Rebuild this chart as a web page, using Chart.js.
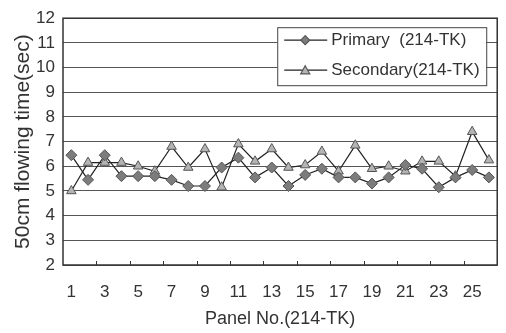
<!DOCTYPE html>
<html>
<head>
<meta charset="utf-8">
<script src="https://cdn.jsdelivr.net/npm/chart.js@4/dist/chart.umd.min.js"></script>
<style>
html,body{margin:0;padding:0;background:#fff;}
#wrap{width:506px;height:333px;}
</style>
</head>
<body>
<div id="wrap"><canvas id="c" width="506" height="333"></canvas></div>
<script>
const panels = ['1','2','3','4','5','6','7','8','9','10','11','12','13','14','15','16','17','18','19','20','21','22','23','24','25','26'];
const primary = [6.45,5.45,6.45,5.6,5.6,5.6,5.45,5.2,5.2,5.95,6.35,5.55,5.95,5.2,5.65,5.9,5.55,5.55,5.3,5.55,6.05,5.9,5.15,5.55,5.85,5.55];
const secondary = [5.0,6.15,6.15,6.15,6.0,5.8,6.8,5.95,6.7,5.15,6.9,6.2,6.7,5.95,6.05,6.6,5.8,6.85,5.9,6.0,5.8,6.2,6.2,5.6,7.4,6.25];
const seriesNames = ['Primary  (214-TK)','Secondary(214-TK)'];
const yTicks = [2,3,4,5,6,7,8,9,10,11,12];
const xTitle = 'Panel No.(214-TK)';
const yTitle = '50cm flowing time(sec)';

const FONT = '"Liberation Sans Narrow", "Liberation Sans", Arial, sans-serif';
const TXT = '#333';

const frame = {
  id:'frame',
  afterDatasetsDraw(chart){
    const {ctx, chartArea:a, scales:{x}} = chart;
    ctx.save();
    ctx.strokeStyle = '#333';
    ctx.lineWidth = 1.5;
    ctx.strokeRect(a.left, a.top, a.right-a.left, a.bottom-a.top);
    ctx.lineWidth = 1;
    for (let i = 1; i < panels.length-1; i += 2) {
      const px = Math.round((x.getPixelForTick(i) + x.getPixelForTick(i+1))/2) + 0.5;
      ctx.beginPath(); ctx.moveTo(px, a.bottom); ctx.lineTo(px, a.bottom-4); ctx.stroke();
    }
    const w = 209, h = 58;
    const lx = a.right - 11 - w, ly = a.top + 9;
    ctx.fillStyle = '#fff';
    ctx.fillRect(lx, ly, w, h);
    ctx.strokeStyle = '#444';
    ctx.lineWidth = 1;
    ctx.strokeRect(lx+0.5, ly+0.5, w, h);
    chart.data.datasets.forEach((ds, i) => {
      const cy = ly + 13 + i*30;
      ctx.strokeStyle = '#222';
      ctx.lineWidth = 1.2;
      ctx.beginPath(); ctx.moveTo(lx+7, cy); ctx.lineTo(lx+50, cy); ctx.stroke();
      ctx.fillStyle = ds.pointBackgroundColor;
      ctx.strokeStyle = ds.pointBorderColor;
      ctx.beginPath();
      const r = 4.5, cx = lx+28;
      if (ds.pointStyle === 'rectRot') {
        ctx.moveTo(cx, cy-r); ctx.lineTo(cx+r, cy); ctx.lineTo(cx, cy+r); ctx.lineTo(cx-r, cy); ctx.closePath();
      } else {
        ctx.moveTo(cx, cy-r); ctx.lineTo(cx+r, cy+r*0.8); ctx.lineTo(cx-r, cy+r*0.8); ctx.closePath();
      }
      ctx.fill(); ctx.stroke();
      ctx.fillStyle = TXT;
      ctx.font = '17px ' + FONT;
      ctx.textBaseline = 'middle';
      ctx.textAlign = 'left';
      ctx.fillText(ds.label, lx+54, cy);
    });
    ctx.restore();
  }
};

new Chart(document.getElementById('c'), {
  type: 'line',
  data: {
    labels: panels,
    datasets: [
      {label: seriesNames[0], data: primary, borderColor:'#222', borderWidth:1.2,
       pointStyle:'rectRot', pointRadius:5.5, pointBackgroundColor:'#7c7c7c', pointBorderColor:'#555', pointBorderWidth:1, tension:0},
      {label: seriesNames[1], data: secondary, borderColor:'#222', borderWidth:1.2,
       pointStyle:'triangle', pointRadius:5.5, pointBackgroundColor:'#b4b4b4', pointBorderColor:'#555', pointBorderWidth:1, tension:0}
    ]
  },
  options: {
    responsive:false,
    animation:false,
    layout:{padding:{left:0,right:3,top:11,bottom:0}},
    plugins:{legend:{display:false}, tooltip:{enabled:false}},
    scales:{
      x:{
        offset:true,
        grid:{display:false, drawTicks:false},
        border:{display:false},
        ticks:{autoSkip:false, maxRotation:0, padding:17, color:TXT, font:{family:FONT,size:17},
               callback:(v,i)=> i%2===0 ? panels[i] : ''},
        title:{display:true, text:xTitle, color:TXT, font:{family:FONT,size:18}, padding:{top:0,bottom:3}},
        afterFit(s){ s.height = 68; }
      },
      y:{
        min:2, max:12,
        afterBuildTicks(s){ s.ticks = yTicks.map(v=>({value:v})); },
        grid:{color:'#555', lineWidth:1, drawTicks:false},
        border:{display:false},
        ticks:{padding:8, color:TXT, font:{family:FONT,size:17}},
        title:{display:true, text:yTitle, color:TXT, font:{family:FONT,size:21}, padding:{top:11,bottom:0}},
        afterFit(s){ s.width = 63; }
      }
    }
  },
  plugins:[frame]
});
</script>
</body>
</html>
